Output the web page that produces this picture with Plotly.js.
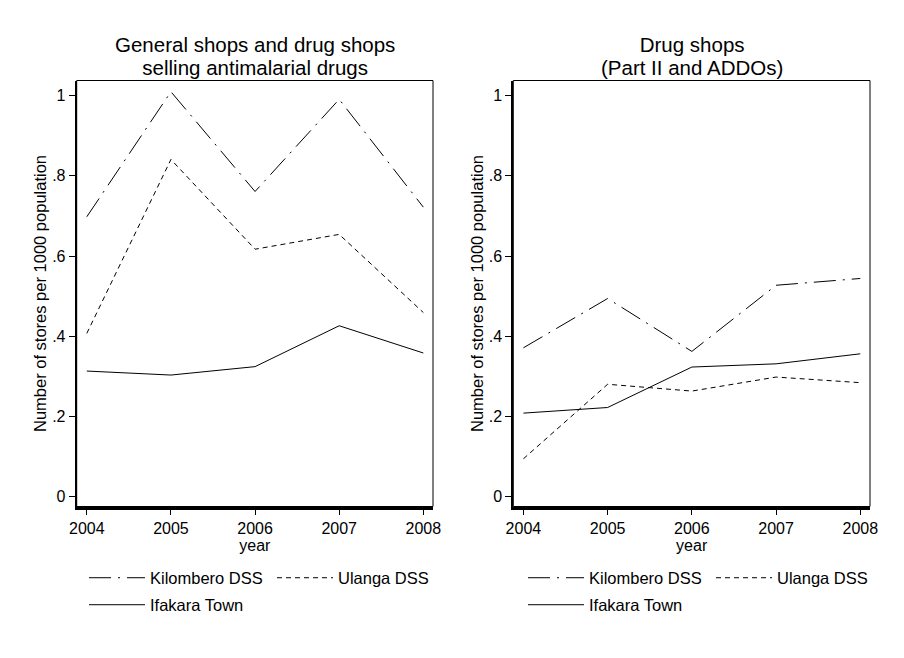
<!DOCTYPE html>
<html>
<head>
<meta charset="utf-8">
<script src="https://cdn.plot.ly/plotly-3.0.1.min.js"></script>
<style>
  html, body { margin: 0; padding: 0; background: #fff; }
  #chart { width: 904px; height: 658px; }
</style>
</head>
<body>
<div id="chart"></div>
<script>
// ── data ────────────────────────────────────────────────────────────────────
const years = [2004, 2005, 2006, 2007, 2008];

// left panel: general shops and drug shops selling antimalarials
const genKilombero = [0.698, 1.010, 0.761, 0.991, 0.722];
const genUlanga    = [0.407, 0.841, 0.617, 0.654, 0.459];
const genIfakara   = [0.313, 0.303, 0.324, 0.426, 0.358];

// right panel: drug shops (Part II and ADDOs)
const drugKilombero = [0.371, 0.494, 0.362, 0.527, 0.544];
const drugUlanga    = [0.094, 0.280, 0.263, 0.298, 0.284];
const drugIfakara   = [0.208, 0.222, 0.323, 0.331, 0.356];

const seriesNames = ['Kilombero DSS', 'Ulanga DSS', 'Ifakara Town'];
const yTickVals   = [0, 0.2, 0.4, 0.6, 0.8, 1];
const yTickText   = ['0', '.2', '.4', '.6', '.8', '1'];
const panelTitles = [
  ['General shops and drug shops', 'selling antimalarial drugs'],
  ['Drug shops', '(Part II and ADDOs)'],
];

(function () {
  const W = 904, H = 658;
  const FONT = '"Liberation Sans", Arial, sans-serif';
  const dashes = ['22px,7px,2px,7px', '5px,4px', 'solid'];

  // pixel helpers -> paper fractions
  const px = function (x) { return x / W; };
  const py = function (y) { return 1 - y / H; };

  const panels = [
    { xa: 'x',  ya: 'y',  left: 76.7,  right: 433, data: [genKilombero, genUlanga, genIfakara] },
    { xa: 'x2', ya: 'y2', left: 513.3, right: 870, data: [drugKilombero, drugUlanga, drugIfakara] },
  ];
  const plotTop = 80.5, plotBottom = 506.5;

  function makeTrace(panel, i, pIdx) {
    // legends: one per row per panel
    const legendKey = ['legend', 'legend2', 'legend3', 'legend4'][pIdx * 2 + (i === 2 ? 1 : 0)];
    return {
      x: years,
      y: panel.data[i],
      xaxis: panel.xa,
      yaxis: panel.ya,
      name: seriesNames[i],
      type: 'scatter',
      mode: 'lines',
      line: { color: '#000', width: 1, dash: dashes[i] },
      legend: legendKey,
      hoverinfo: 'x+y+name',
    };
  }

  const traces = [];
  panels.forEach(function (p, pIdx) {
    for (let i = 0; i < 3; i++) traces.push(makeTrace(p, i, pIdx));
  });

  function xAxis(p) {
    return {
      domain: [px(p.left), px(p.right)],
      range: [2003.88, 2008.115],
      tickvals: years,
      ticks: 'outside', ticklen: 6, tickwidth: 1, tickcolor: '#000',
      tickfont: { family: FONT, size: 16, color: '#000' },
      showgrid: false, zeroline: false,
      showline: true, linewidth: 2.5, linecolor: '#000',
      title: { text: 'year', font: { family: FONT, size: 16, color: '#000' }, standoff: 0 },
      fixedrange: true,
    };
  }

  function yAxis(p, xa) {
    return {
      anchor: xa,
      domain: [py(plotBottom), py(plotTop)],
      range: [-0.025, 1.038],
      tickvals: yTickVals,
      ticktext: yTickText,
      ticks: 'outside', ticklen: 6, tickwidth: 1, tickcolor: '#000',
      tickfont: { family: FONT, size: 16, color: '#000' },
      showgrid: false, zeroline: false,
      showline: true, linewidth: 2, linecolor: '#000',
      title: {
        text: 'Number of stores per 1000 population',
        font: { family: FONT, size: 16.5, color: '#000' },
        standoff: 1,
      },
      fixedrange: true,
    };
  }

  // thin outline around each plot region
  const shapes = panels.map(function (p) {
    return {
      type: 'rect', xref: p.xa + ' domain', yref: p.ya + ' domain',
      x0: 0, x1: 1, y0: 0, y1: 1,
      line: { color: '#000', width: 1 }, layer: 'below',
    };
  });

  // two-line panel titles: the outer font size sets the line spacing,
  // the span sets the glyph size
  const annotations = panels.map(function (p, i) {
    const lines = panelTitles[i].map(function (t) {
      return '<span style="font-size:20.5px">' + t + '</span>';
    });
    return {
      xref: 'paper', yref: 'paper', x: px((p.left + p.right) / 2), y: py(56),
      xanchor: 'center', yanchor: 'middle', showarrow: false,
      text: lines.join('<br>'),
      font: { family: FONT, size: 17.7, color: '#000' },
    };
  });

  function legendAt(xPix, yPix) {
    return {
      x: px(xPix), y: py(yPix), xanchor: 'left', yanchor: 'middle',
      orientation: 'h', bgcolor: 'rgba(0,0,0,0)', borderwidth: 0,
      itemwidth: 56, entrywidth: 117, entrywidthmode: 'pixels',
      font: { family: FONT, size: 16.5, color: '#000' },
      itemclick: false, itemdoubleclick: false,
    };
  }

  const layout = {
    width: W, height: H,
    margin: { l: 0, r: 0, t: 0, b: 0 },
    paper_bgcolor: '#fff', plot_bgcolor: '#fff',
    font: { family: FONT, color: '#000' },
    showlegend: true,
    xaxis: xAxis(panels[0]),
    yaxis: yAxis(panels[0], 'x'),
    xaxis2: xAxis(panels[1]),
    yaxis2: yAxis(panels[1], 'x2'),
    legend:  legendAt(84, 578),
    legend2: legendAt(84, 605),
    legend3: legendAt(523, 578),
    legend4: legendAt(523, 605),
    shapes: shapes,
    annotations: annotations,
  };

  Plotly.newPlot('chart', traces, layout, { displayModeBar: false });
}());
</script>
</body>
</html>
